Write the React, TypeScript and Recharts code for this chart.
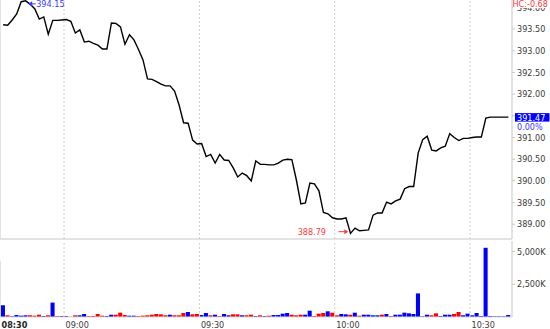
import React from 'react';
import { ComposedChart, LineChart, Line, Bar, Cell, XAxis, YAxis, ReferenceLine, ReferenceDot } from 'recharts';

// ---- data ----
const sessionLabel = '08:30';
const firstBarMinute = 16; // first 1-minute bar = 08:46 (minutes after 08:30)
const xTicks = [30, 60, 90, 120];
const xTickLabels = ['09:00', '09:30', '10:00', '10:30'];
const priceTicks = [389, 389.5, 390, 390.5, 391, 391.5, 392, 392.5, 393, 393.5, 394];
const volumeTicks = [2500, 5000];
const hcLabel = 'HC:-0.68';
const pctLabel = '0.00%';

const prices = [
  393.60, 393.59, 393.71, 393.85, 394.13, 394.15, 394.07, 393.97, 393.73, 393.78,
  393.38, 393.70, 393.70, 393.71, 393.72, 393.68, 393.41, 393.48, 393.20, 393.22,
  393.17, 393.13, 393.04, 393.04, 393.64, 393.63, 393.55, 393.15, 393.37, 393.25,
  393.03, 392.79, 392.35, 392.34, 392.29, 392.23, 392.19, 392.19, 392.07, 391.75,
  391.34, 391.33, 390.94, 390.85, 390.86, 390.56, 390.61, 390.41, 390.61, 390.48,
  390.47, 390.30, 390.09, 390.18, 390.12, 390.00, 390.46, 390.38, 390.38, 390.37,
  390.37, 390.41, 390.48, 390.50, 390.49, 390.02, 389.47, 389.49, 389.95, 389.93,
  389.77, 389.27, 389.24, 389.15, 389.12, 389.12, 389.15, 388.79, 388.91, 388.85,
  388.86, 388.87, 389.21, 389.26, 389.26, 389.51, 389.47, 389.54, 389.58, 389.82,
  389.87, 389.87, 390.64, 390.95, 391.03, 390.71, 390.69, 390.76, 390.80, 391.09,
  391.00, 390.93, 390.98, 390.98, 391.00, 391.01, 391.01, 391.45, 391.47, 391.47,
  391.47, 391.47, 391.47,
];

// volume in thousands
const volumes = [
  895, 130, 55, 150, 100, 130, 130, 100, 175, 75,
  130, 1100, 75, 75, 75, 25, 130, 130, 230, 75,
  75, 230, 100, 75, 175, 175, 330, 150, 100, 100,
  75, 100, 130, 175, 230, 205, 130, 175, 130, 130,
  305, 380, 205, 230, 150, 305, 130, 175, 75, 230,
  130, 205, 205, 130, 130, 175, 75, 130, 75, 100,
  150, 150, 255, 305, 175, 130, 175, 175, 480, 75,
  255, 305, 435, 330, 130, 230, 205, 175, 330, 100,
  175, 175, 130, 130, 175, 230, 75, 175, 175, 330,
  280, 230, 1800, 55, 175, 130, 280, 75, 175, 175,
  230, 380, 130, 255, 130, 305, 75, 5280, 75, 55,
  55, 55, 150,
];

// u = up bar, d = down bar
const volumeDirs = [
  'uduuuudddu', 'duduudduud', 'ddduuddduu', 'dddddddudd', 'dudduududu',
  'udduddudud', 'uuuuddduud', 'ddudduudud', 'uuuududuuu', 'uuuuudduuu',
  'dduuuuuuuu', 'uuu',
].join('').split('');

// ---- derived ----
const rows = prices.map((p, i) => ({
  t: firstBarMinute + i + 0.5,
  price: p,
  vol: volumes[i],
  dir: volumeDirs[i],
}));
const xDomain: [number, number] = [15.8, 129.3];
const priceDomain: [number, number] = [388.66, 394.17];
const volumeDomain: [number, number] = [0, 5800];
const maxPrice = Math.max(...prices);
const minPrice = Math.min(...prices);
const maxRow = rows[prices.indexOf(maxPrice)];
const minRow = rows[prices.indexOf(minPrice)];
const lastPrice = prices[prices.length - 1];

const FONT = '"DejaVu Sans Condensed", "DejaVu Sans", sans-serif';
const TXT_STYLE = { fontStretch: 'condensed' as const };
const GRID = '#cfcfcf';
const AXIS = '#c8c8c8';
const TXT = '#3a3a3a';
const BLUE = '#3a3aff';
const RED = '#ff3a3a';

const PriceTick = (props: any) => {
  const v = Number(props.payload.value);
  if (Math.abs(v - lastPrice) < 0.15) return <g />;
  return (
    <text x={props.x} y={props.y} dy={3.2} fontSize={9} fill={TXT} fontFamily={FONT} style={TXT_STYLE} textAnchor="start">
      {v.toFixed(2)}
    </text>
  );
};

const VolTick = (props: any) => (
  <text x={props.x} y={props.y} dy={3.2} fontSize={9} fill={TXT} fontFamily={FONT} style={TXT_STYLE} textAnchor="start">
    {Number(props.payload.value).toLocaleString('en-US') + 'K'}
  </text>
);

const TimeTick = (props: any) => {
  const v = props.payload.value;
  const idx = xTicks.indexOf(v);
  const isSession = idx < 0;
  return (
    <text
      x={props.x + 1.5}
      y={props.y}
      dy={10.5}
      fontSize={9}
      fill={isSession ? '#222' : TXT}
      fontWeight={isSession ? 'bold' : 'normal'}
      fontFamily={FONT}
      style={TXT_STYLE}
      textAnchor="start"
    >
      {isSession ? sessionLabel : xTickLabels[idx]}
    </text>
  );
};

const MaxLabel = (props: any) => {
  const vb = props.viewBox || {};
  const x = vb.x + (vb.width || 0) / 2;
  const y = vb.y + (vb.height || 0) / 2;
  const cy = y + 3;
  return (
    <g>
      <path d={`M${x + 2.5},${cy} l4,-2.5 v5 z`} fill={BLUE} />
      <line x1={x + 5} y1={cy} x2={x + 10} y2={cy} stroke={BLUE} strokeWidth={1} />
      <text x={x + 10.5} y={cy} dy={3.2} fontSize={9} fill={BLUE} fontFamily={FONT} style={TXT_STYLE}>
        {maxPrice.toFixed(2)}
      </text>
    </g>
  );
};

const MinLabel = (props: any) => {
  const vb = props.viewBox || {};
  const x = vb.x + (vb.width || 0) / 2;
  const y = vb.y + (vb.height || 0) / 2;
  const cy = y - 1.7;
  return (
    <g>
      <path d={`M${x - 2.2},${cy} l-4,-2.5 v5 z`} fill={RED} />
      <line x1={x - 12} y1={cy} x2={x - 5} y2={cy} stroke={RED} strokeWidth={1} />
      <text x={x - 24.5} y={cy} dy={3.2} fontSize={9} fill={RED} fontFamily={FONT} style={TXT_STYLE} textAnchor="end">
        {minPrice.toFixed(2)}
      </text>
    </g>
  );
};

const LastLabel = (props: any) => {
  const vb = props.viewBox || {};
  const left = vb.x + vb.width + 3;
  const cy = vb.y;
  return (
    <g>
      <rect x={left} y={cy - 4} width={34.5} height={8.5} fill="#0000ff" />
      <text x={left + 2} y={cy} dy={3.4} fontSize={9} fill="#fff" fontFamily={FONT} style={TXT_STYLE}>
        {lastPrice.toFixed(2)}
      </text>
      <text x={left + 2} y={cy + 9.5} dy={3.4} fontSize={9} fill={BLUE} fontFamily={FONT} style={TXT_STYLE}>
        {pctLabel}
      </text>
    </g>
  );
};

export default function App() {
  return (
    <div style={{ position: 'absolute', left: 0, top: 0, width: 550, height: 329, background: '#fff' }}>
      <div style={{ position: 'absolute', left: 0, top: 0 }}>
        <LineChart width={550} height={240} data={rows} margin={{ top: 0, right: 0, bottom: 0, left: 0 }}>
          <XAxis
            type="number"
            dataKey="t"
            domain={xDomain}
            ticks={xTicks}
            allowDataOverflow
            height={1}
            tick={false}
            tickLine={false}
            axisLine={{ stroke: AXIS }}
          />
          <YAxis
            orientation="right"
            width={38}
            domain={priceDomain}
            ticks={priceTicks}
            interval={0}
            allowDataOverflow
            tickSize={3}
            tickMargin={2}
            tick={PriceTick}
            axisLine={{ stroke: AXIS }}
            tickLine={{ stroke: AXIS }}
          />
          {xTicks.map((t) => (
            <ReferenceLine key={t} x={t} stroke={GRID} strokeDasharray="2 2" />
          ))}
          <ReferenceLine x={xDomain[0]} stroke={AXIS} />
          <Line
            dataKey="price"
            type="linear"
            stroke="#000"
            strokeWidth={1.4}
            dot={false}
            activeDot={false}
            isAnimationActive={false}
          />
          <ReferenceDot x={maxRow.t} y={maxPrice} r={0} fill="none" stroke="none" label={<MaxLabel />} />
          <ReferenceDot x={minRow.t} y={minPrice} r={0} fill="none" stroke="none" label={<MinLabel />} />
          <ReferenceLine y={lastPrice} stroke="transparent" label={<LastLabel />} />
        </LineChart>
      </div>
      <div style={{ position: 'absolute', left: 0, top: 240 }}>
        <ComposedChart
          width={550}
          height={89}
          data={rows}
          margin={{ top: 1, right: 0, bottom: 0, left: 0 }}
          barCategoryGap={0}
          barGap={0}
        >
          <XAxis
            type="number"
            dataKey="t"
            domain={xDomain}
            ticks={[xDomain[0], ...xTicks]}
            interval={0}
            allowDataOverflow
            height={12}
            tickSize={0}
            tickMargin={0}
            tick={TimeTick}
            axisLine={{ stroke: '#dcdcdc' }}
          />
          <YAxis
            orientation="right"
            width={38}
            domain={volumeDomain}
            ticks={volumeTicks}
            interval={0}
            allowDataOverflow
            tickSize={3}
            tickMargin={2}
            tick={VolTick}
            axisLine={{ stroke: AXIS }}
            tickLine={{ stroke: AXIS }}
          />
          {xTicks.map((t) => (
            <ReferenceLine key={t} x={t} stroke={GRID} strokeDasharray="2 2" />
          ))}
          <ReferenceLine
            segment={[
              { x: xDomain[0], y: 0 },
              { x: xDomain[0], y: 4300 },
            ]}
            stroke={AXIS}
          />
          <Bar dataKey="vol" barSize={4.6} isAnimationActive={false}>
            {rows.map((r, i) => (
              <Cell key={i} fill={r.dir === 'u' ? '#0000ff' : '#ff0000'} />
            ))}
          </Bar>
        </ComposedChart>
      </div>
      <div
        style={{
          position: 'absolute',
          left: 512.5,
          top: 0,
          width: 37,
          height: 7.5,
          background: '#fff',
          color: RED,
          fontFamily: FONT,
          fontStretch: 'condensed',
          fontSize: 9,
          lineHeight: '8px',
          whiteSpace: 'nowrap',
          overflow: 'visible',
        }}
      >
        {hcLabel}
      </div>
    </div>
  );
}
